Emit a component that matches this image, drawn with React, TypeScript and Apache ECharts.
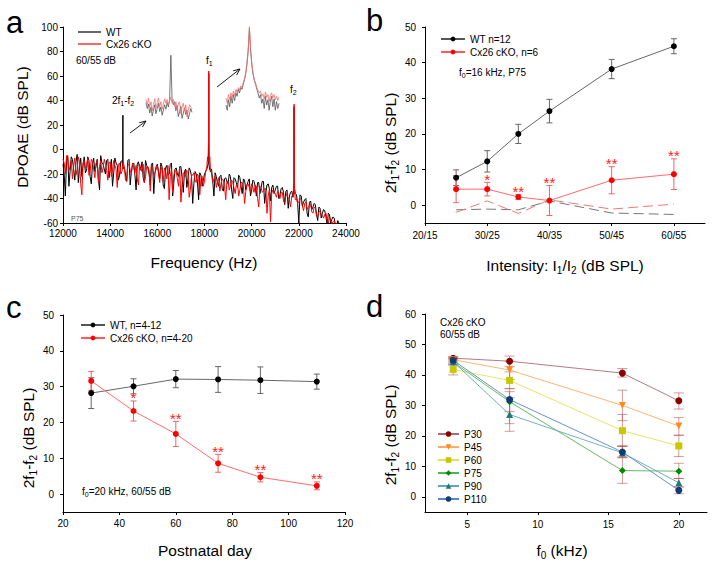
import React, { useEffect, useRef } from 'react';
import * as echarts from 'echarts';

const FONT = '"Liberation Sans", Arial, Helvetica, sans-serif';

// ---------- Panel a: DPOAE spectrum ----------
// values at 12000, 12100, ... 24000 Hz
const specStart = 12000;
const specStep = 100;
const wtSpectrum = [
  -12, -38, -5, -18, -8, -25, -4, -15, -22, -6,
  -17, -9, -28, -7, -14, -24, -5, -12, -20, -8,
  -16, -30, -7, -13, -21, -9, -15, -26, -8, -18,
  -11, -33, -10, -17, -23, -9, -15, -29, -11, -19,
  -12, -24, -14, -32, -13, -20, -11, -27, -15, -22,
  -14, -35, -16, -24, -17, -44, -18, -26, -19, -30,
  -20, -16, -14, -16, -38, -22, -30, -21, -34, -23,
  -28, -22, -40, -24, -31, -23, -36, -25, -29, -24,
  -33, -26, -38, -27, -31, -26, -35, -28, -42, -29,
  -33, -30, -37, -31, -45, -33, -38, -34, -36, -37,
  -60, -38, -43, -40, -55, -42, -47, -45, -58, -48,
  -52, -50, -62, -53, -57, -56, -64, -60, -66, -65,
  -68,
];
// values at 12050, 12150, ... 23950 Hz
const wtSpectrumMid = [
  -20, -9, -30, -6, -16, -10, -27, -7, -13, -19,
  -6, -22, -12, -18, -8, -33, -11, -16, -9, -23,
  -8, -19, -11, -25, -10, -14, -20, -9, -29, -12,
  -21, -12, -16, -10, -27, -13, -20, -12, -36, -14,
  -18, -11, -29, -15, -21, -12, -38, -16, -20, -14,
  -23, -18, -31, -15, -22, -28, -20, -41, -21, -25,
  -18, -12, -18, -26, -19, -27, -22, -32, -24, -26,
  -20, -33, -23, -27, -21, -30, -24, -33, -26, -38,
  -25, -30, -27, -36, -26, -44, -29, -32, -31, -36,
  -30, -40, -32, -35, -34, -48, -35, -39, -36, -44,
  -37, -46, -41, -52, -43, -49, -44, -53, -47, -56,
  -49, -55, -52, -60, -55, -62, -58, -65, -63, -67,
];
const koSpectrum = [
  -8, -20, -6, -14, -24, -7, -16, -10, -37, -9,
  -13, -21, -8, -16, -11, -27, -9, -15, -12, -25,
  -10, -17, -13, -31, -11, -18, -14, -26, -12, -20,
  -15, -13, -29, -16, -12, -22, -14, -34, -15, -19,
  -13, -27, -17, -15, -24, -41, -16, -21, -18, -30,
  -43, -19, -22, -18, -33, -21, -25, -20, -37, -22,
  -26, -14, -10, -20, -24, -31, -23, -28, -25, -41,
  -26, -30, -27, -36, -28, -33, -27, -44, -29, -31,
  -28, -35, -30, -47, -31, -34, -32, -38, -59, -33,
  -36, -34, -40, -35, -44, -36, -41, -38, -36, -40,
  -43, -41, -50, -43, -47, -45, -52, -48, -55, -50,
  -54, -53, -58, -55, -61, -58, -60, -62, -63, -66,
  -68,
];
const koSpectrumMid = [
  -11, -5, -17, -9, -13, -21, -6, -28, -11, -15,
  -7, -18, -10, -23, -9, -14, -19, -8, -17, -11,
  -22, -9, -16, -12, -20, -10, -25, -13, -17, -11,
  -19, -24, -12, -18, -27, -14, -17, -13, -21, -16,
  -20, -14, -26, -18, -13, -22, -35, -17, -24, -15,
  -28, -20, -17, -39, -21, -19, -27, -22, -24, -30,
  -18, -10, -15, -27, -22, -26, -34, -24, -30, -26,
  -33, -25, -31, -29, -38, -27, -30, -34, -28, -35,
  -31, -29, -40, -30, -35, -32, -52, -33, -36, -35,
  -39, -37, -35, -42, -38, -40, -47, -37, -41, -44,
  -40, -46, -44, -49, -46, -51, -47, -54, -51, -53,
  -56, -52, -60, -57, -59, -63, -61, -64, -65, -67,
];
const wtPeaks = [
  [14530, -14], [14540, 28], [14545, -16],
  [18178, -8], [18180, 62], [18183, -8],
  [21798, -30], [21800, 35], [21802, -30],
];
const koPeaks = [
  [18130, -6], [18160, 0], [18175, 10], [18180, 64], [18185, 10], [18195, 0], [18225, -6],
  [21795, -28], [21800, 37], [21805, -30],
];
// insets (relative level, 0-100)
const inset1Wt = [30, 22, 28, 16, 24, 12, 20, 27, 15, 22, 29, 18, 24, 13, 20, 27, 21, 30, 24, 34, 93, 33, 27, 31, 19, 26, 11, 18, 25, 9, 16, 23, 14, 20, 8, 15, 22, 17];
const inset1Ko = [34, 27, 36, 24, 31, 19, 27, 35, 22, 30, 36, 24, 31, 21, 28, 35, 29, 34, 27, 32, 37, 29, 34, 25, 31, 21, 28, 31, 15, 24, 29, 19, 27, 11, 20, 27, 24, 22];
const inset2Wt = [8, 2, 14, 6, 18, 10, 20, 13, 22, 18, 26, 22, 28, 26, 32, 37, 44, 55, 70, 96, 70, 54, 43, 36, 32, 26, 22, 16, 20, 10, 15, 4, 18, 8, 14, 2, 12, 18, 6, 15, 2, 12, 4, 10];
const inset2Ko = [16, 10, 20, 14, 22, 17, 24, 19, 26, 22, 28, 25, 30, 28, 34, 38, 45, 56, 72, 98, 72, 55, 44, 37, 33, 28, 25, 22, 24, 18, 21, 15, 23, 17, 20, 12, 19, 22, 16, 20, 14, 18, 13, 17];

// ---------- Panel b ----------
const bTickValues = [20, 30, 40, 50, 60];
const bTickLabels = ['20/15', '30/25', '40/35', '50/45', '60/55'];
const bLevels = [25, 30, 35, 40, 50, 60];
const bWtMean = [7.7, 12.3, 20.0, 26.4, 38.2, 44.6];
const bWtErr = [2.2, 3.0, 2.7, 3.3, 2.7, 2.1];
const bKoMean = [4.5, 4.5, 2.3, 1.3, 7.0, 8.7];
const bKoErr = [3.8, 1.9, 0.7, 4.2, 3.8, 4.3];
const bWtNoise = [-1.3, -1.1, -1.3, 1.2, -2.2, -2.6];
const bKoNoise = [-2.0, 1.2, -2.3, 1.5, -1.1, 0.3];
const bStars = ['', '*', '**', '**', '**', '**'];
const yTicks50 = [0, 10, 20, 30, 40, 50];

// ---------- Panel c ----------
const cDays = [30, 45, 60, 75, 90, 110];
const cWtMean = [28.2, 30.1, 32.1, 32.0, 31.8, 31.4];
const cWtErr = [4.3, 2.1, 2.4, 3.6, 3.7, 2.1];
const cKoMean = [31.6, 23.2, 16.8, 8.6, 4.7, 2.3];
const cKoErr = [2.6, 2.8, 3.5, 2.5, 1.3, 1.1];
const cStars = ['', '*', '**', '**', '**', '**'];

// ---------- Panel d ----------
const dFreq = [4, 8, 16, 20];
const dXTicks = [5, 10, 15, 20];
const dYTicks = [0, 10, 20, 30, 40, 50, 60];
const dAges = ['P30', 'P45', 'P60', 'P75', 'P90', 'P110'];
const dP30 = [45.5, 44.5, 40.6, 31.5];
const dP30Lo = [44.9, 42.8, 39.3, 28.8];
const dP30Hi = [46.1, 46.2, 42.1, 34.1];
const dP45 = [45.0, 41.6, 30.0, 23.2];
const dP45Lo = [44.5, 38.5, 25.0, 20.2];
const dP45Hi = [45.8, 44.5, 35.0, 26.0];
const dP60 = [41.8, 38.2, 21.7, 16.7];
const dP60Lo = [40.0, 35.5, 16.5, 13.2];
const dP60Hi = [43.6, 41.0, 27.0, 20.2];
const dP75 = [44.2, 31.2, 8.6, 8.4];
const dP75Lo = [43.2, 28.0, 4.4, 6.0];
const dP75Hi = [45.2, 34.5, 12.8, 11.0];
const dP90 = [44.3, 27.0, 14.4, 4.6];
const dP90Lo = [43.5, 21.5, 13.0, 3.3];
const dP90Hi = [45.5, 32.5, 16.5, 6.0];
const dP110 = [44.8, 31.9, 14.7, 2.1];
const dP110Lo = [44.0, 24.0, 13.0, 1.0];
const dP110Hi = [45.6, 35.5, 16.8, 3.2];

const dStyles = [
  { symbol: 'circle', rot: 0, marker: '#8b0000', line: '#b06a74' },
  { symbol: 'triangle', rot: 180, marker: '#ff8a1a', line: '#ffac62' },
  { symbol: 'rect', rot: 0, marker: '#c8c800', line: '#e2e25a' },
  { symbol: 'diamond', rot: 0, marker: '#008a00', line: '#52b452' },
  { symbol: 'triangle', rot: 0, marker: '#1f7a7a', line: '#62a8b4' },
  { symbol: 'circle', rot: 0, marker: '#0b3d78', line: '#5a86c4' },
];

function specPoints(vals: number[], mids: number[], peaks: number[][]) {
  const a = vals.map((v, i) => [specStart + i * specStep, v]);
  const b = mids.map((v, i) => [specStart + specStep / 2 + i * specStep, v]);
  return a.concat(b).concat(peaks).sort((p, q) => p[0] - q[0]);
}

function errorSeries(name: string, g: number, xs: number[], lo: number[], hi: number[], color: string, cap: number, opacity = 1) {
  return {
    type: 'custom', name, xAxisIndex: g, yAxisIndex: g, silent: true,
    data: xs.map((x, i) => [x, lo[i], hi[i]]),
    encode: { x: 0, y: [1, 2] },
    renderItem: (params: any, api: any) => {
      const x = api.value(0);
      const a = api.coord([x, api.value(1)]);
      const b = api.coord([x, api.value(2)]);
      const st = { stroke: color, lineWidth: 1, opacity };
      return {
        type: 'group', children: [
          { type: 'line', shape: { x1: a[0], y1: a[1], x2: b[0], y2: b[1] }, style: st },
          { type: 'line', shape: { x1: a[0] - cap, y1: a[1], x2: a[0] + cap, y2: a[1] }, style: st },
          { type: 'line', shape: { x1: b[0] - cap, y1: b[1], x2: b[0] + cap, y2: b[1] }, style: st },
        ],
      };
    },
  };
}

function starSeries(g: number, xs: number[], tops: number[], labels: string[], color: string) {
  return {
    type: 'custom', xAxisIndex: g, yAxisIndex: g, silent: true,
    data: xs.map((x, i) => [x, tops[i]]),
    encode: { x: 0, y: 1 },
    renderItem: (params: any, api: any) => {
      const p = api.coord([api.value(0), api.value(1)]);
      return {
        type: 'text', x: p[0], y: p[1] - 3,
        style: { text: labels[params.dataIndex], fill: color, fontSize: 15, fontFamily: FONT, align: 'center', verticalAlign: 'middle' },
      };
    },
  };
}

function lineSeries(name: string, g: number, xs: number[], ys: number[], lineColor: string, markerColor: string, symbol = 'circle', size = 6, rot = 0) {
  return {
    type: 'line', name, xAxisIndex: g, yAxisIndex: g, silent: true,
    data: xs.map((x, i) => [x, ys[i]]),
    symbol, symbolSize: size, symbolRotate: rot, showSymbol: true,
    lineStyle: { color: lineColor, width: 0.9 },
    itemStyle: { color: markerColor, borderWidth: 0 },
    z: 3,
  };
}

const axisCommon = {
  type: 'value',
  axisLine: { show: true, onZero: false, lineStyle: { color: '#000', width: 1 } },
  splitLine: { show: false },
};
const tick = (extra: any = {}) => ({ show: true, length: 3, lineStyle: { color: '#000', width: 1 }, ...extra });
const lab = (extra: any = {}) => ({ color: '#000', fontSize: 10, fontFamily: FONT, margin: 5, ...extra });

const rich = (fs: number, sub: number, lh: number) => ({
  n: { fontSize: fs, fontFamily: FONT, fill: '#000', lineHeight: lh },
  s: { fontSize: sub, fontFamily: FONT, fill: '#000', lineHeight: sub, verticalAlign: 'bottom' },
});

function txt(text: string, x: number, y: number, extra: any = {}) {
  return { type: 'text', x, y, silent: true, style: { text, fontSize: 10, fontFamily: FONT, fill: '#000', align: 'left', verticalAlign: 'middle', ...extra } };
}
function richTxt(text: string, x: number, y: number, fs: number, sub: number, lh: number, align = 'left', rotation = 0) {
  return {
    type: 'text', x, y, rotation, silent: true,
    style: { text, rich: rich(fs, sub, lh), fontSize: fs, fontFamily: FONT, fill: '#000', align, verticalAlign: 'middle' },
  };
}
function arrow(x1: number, y1: number, x2: number, y2: number) {
  const ang = Math.atan2(y2 - y1, x2 - x1);
  const L = 7, da = 0.4;
  const p1 = [x2 - L * Math.cos(ang - da), y2 - L * Math.sin(ang - da)];
  const p2 = [x2 - L * Math.cos(ang + da), y2 - L * Math.sin(ang + da)];
  return [
    { type: 'line', silent: true, shape: { x1, y1, x2, y2 }, style: { stroke: '#000', lineWidth: 0.9 } },
    { type: 'polyline', silent: true, shape: { points: [p1, [x2, y2], p2] }, style: { stroke: '#000', lineWidth: 0.9, fill: null } },
  ];
}

export default function App() {
  const ref = useRef<HTMLDivElement>(null);
  useEffect(() => {
    if (!ref.current) return;
    const chart = echarts.init(ref.current, null, { renderer: 'svg' });
    const hiddenAxis = (g: number, min: number, max: number) => ({ type: 'value', gridIndex: g, min, max, show: false });

    const dData = [dP30, dP45, dP60, dP75, dP90, dP110];
    const dLo = [dP30Lo, dP45Lo, dP60Lo, dP75Lo, dP90Lo, dP110Lo];
    const dHi = [dP30Hi, dP45Hi, dP60Hi, dP75Hi, dP90Hi, dP110Hi];

    const series: any[] = [
      // panel a
      { type: 'line', name: 'WT', xAxisIndex: 0, yAxisIndex: 0, data: specPoints(wtSpectrum, wtSpectrumMid, wtPeaks), symbol: 'none', lineStyle: { color: '#000', width: 1 }, itemStyle: { color: '#000' }, silent: true, clip: true },
      { type: 'line', name: 'Cx26 cKO', xAxisIndex: 0, yAxisIndex: 0, data: specPoints(koSpectrum, koSpectrumMid, koPeaks), symbol: 'none', lineStyle: { color: '#ff0000', width: 1 }, itemStyle: { color: '#ff0000' }, silent: true, clip: true },
      { type: 'line', name: 'inset1 WT', xAxisIndex: 4, yAxisIndex: 4, data: inset1Wt.map((v, i) => [i, v]), symbol: 'none', lineStyle: { color: '#555', width: 0.8 }, silent: true },
      { type: 'line', name: 'inset1 KO', xAxisIndex: 4, yAxisIndex: 4, data: inset1Ko.map((v, i) => [i, v]), symbol: 'none', lineStyle: { color: '#f07070', width: 0.8 }, silent: true },
      { type: 'line', name: 'inset2 WT', xAxisIndex: 5, yAxisIndex: 5, data: inset2Wt.map((v, i) => [i, v]), symbol: 'none', lineStyle: { color: '#555', width: 0.8 }, silent: true },
      { type: 'line', name: 'inset2 KO', xAxisIndex: 5, yAxisIndex: 5, data: inset2Ko.map((v, i) => [i, v]), symbol: 'none', lineStyle: { color: '#f07070', width: 0.8 }, silent: true },
      // panel b
      { type: 'line', name: 'WT noise', xAxisIndex: 1, yAxisIndex: 1, data: bLevels.map((x, i) => [x, bWtNoise[i]]), symbol: 'none', lineStyle: { color: '#777', width: 1, type: [10, 5] }, silent: true },
      { type: 'line', name: 'KO noise', xAxisIndex: 1, yAxisIndex: 1, data: bLevels.map((x, i) => [x, bKoNoise[i]]), symbol: 'none', lineStyle: { color: '#ec7a7a', width: 1, type: [10, 5] }, silent: true },
      errorSeries('WT b err', 1, bLevels, bWtMean.map((m, i) => m - bWtErr[i]), bWtMean.map((m, i) => m + bWtErr[i]), '#666', 3),
      errorSeries('KO b err', 1, bLevels, bKoMean.map((m, i) => m - bKoErr[i]), bKoMean.map((m, i) => m + bKoErr[i]), '#e66', 3),
      lineSeries('WT n=12', 1, bLevels, bWtMean, '#555', '#000'),
      lineSeries('Cx26 cKO, n=6', 1, bLevels, bKoMean, '#ff5a5a', '#ff0000'),
      starSeries(1, bLevels, bKoMean.map((m, i) => m + bKoErr[i]), bStars, '#ff2020'),
      // panel c
      errorSeries('WT c err', 2, cDays, cWtMean.map((m, i) => m - cWtErr[i]), cWtMean.map((m, i) => m + cWtErr[i]), '#666', 3),
      errorSeries('KO c err', 2, cDays, cKoMean.map((m, i) => m - cKoErr[i]), cKoMean.map((m, i) => m + cKoErr[i]), '#e66', 3),
      lineSeries('WT, n=4-12', 2, cDays, cWtMean, '#555', '#000'),
      lineSeries('Cx26 cKO, n=4-20', 2, cDays, cKoMean, '#ff5a5a', '#ff0000'),
      starSeries(2, cDays, cKoMean.map((m, i) => m + cKoErr[i]), cStars, '#ff2020'),
    ];
    dAges.forEach((age, k) => {
      series.push(errorSeries(age + ' err', 3, dFreq, dLo[k], dHi[k], '#b84848', 5, 0.55));
    });
    dAges.forEach((age, k) => {
      const s = dStyles[k];
      series.push(lineSeries(age, 3, dFreq, dData[k], s.line, s.marker, s.symbol, 7, s.rot));
    });

    const legendBase = {
      orient: 'vertical', selectedMode: false, itemHeight: 6, itemWidth: 24, padding: 0,
      textStyle: { fontSize: 10, fontFamily: FONT, color: '#000', lineHeight: 10 },
    };

    const option: any = {
      animation: false,
      textStyle: { fontFamily: FONT },
      grid: [
        { left: 63, top: 27, width: 283, height: 196 },
        { left: 425, top: 27, width: 280, height: 196 },
        { left: 63, top: 315, width: 282, height: 197 },
        { left: 425, top: 314, width: 282, height: 198 },
        { left: 146, top: 50, width: 46, height: 75 },
        { left: 226, top: 25, width: 53, height: 87 },
      ],
      xAxis: [
        { ...axisCommon, gridIndex: 0, min: 12000, max: 24000, interval: 2000, axisTick: tick(), axisLabel: lab({ formatter: (v: number) => String(v) }) },
        { ...axisCommon, gridIndex: 1, min: 20, max: 65, axisTick: tick({ customValues: bTickValues }), axisLabel: lab({ customValues: bTickValues, margin: 7, formatter: (v: number) => bTickLabels[bTickValues.indexOf(v)] ?? '' }) },
        { ...axisCommon, gridIndex: 2, min: 20, max: 120, interval: 20, axisTick: tick(), axisLabel: lab({ margin: 6 }) },
        { ...axisCommon, gridIndex: 3, min: 2, max: 22, axisTick: tick({ customValues: dXTicks }), axisLabel: lab({ customValues: dXTicks, margin: 7 }) },
        hiddenAxis(4, 0, inset1Wt.length - 1),
        hiddenAxis(5, 0, inset2Wt.length - 1),
      ],
      yAxis: [
        { ...axisCommon, gridIndex: 0, min: -60, max: 100, interval: 20, axisTick: tick(), axisLabel: lab() },
        { ...axisCommon, gridIndex: 1, min: -5, max: 50, axisTick: tick({ customValues: yTicks50 }), axisLabel: lab({ customValues: yTicks50, margin: 9 }) },
        { ...axisCommon, gridIndex: 2, min: -5, max: 50, axisTick: tick({ customValues: yTicks50 }), axisLabel: lab({ customValues: yTicks50, margin: 9 }) },
        { ...axisCommon, gridIndex: 3, min: -5, max: 60, axisTick: tick({ customValues: dYTicks }), axisLabel: lab({ customValues: dYTicks, margin: 9 }) },
        hiddenAxis(4, 0, 100),
        hiddenAxis(5, 0, 100),
      ],
      legend: [
        { ...legendBase, left: 78, top: 27, itemHeight: 1.2, itemWidth: 23, itemGap: 2, data: [{ name: 'WT', icon: 'rect' }, { name: 'Cx26 cKO', icon: 'rect' }] },
        { ...legendBase, left: 440, top: 34, itemGap: 3, data: ['WT n=12', 'Cx26 cKO, n=6'] },
        { ...legendBase, left: 80, top: 320, itemGap: 3, data: ['WT, n=4-12', 'Cx26 cKO, n=4-20'] },
        { ...legendBase, left: 437, top: 429, itemWidth: 21, itemHeight: 7, itemGap: 3, data: dAges },
      ],
      series,
      graphic: {
        elements: [
          // panel letters
          txt('a', 6, 22, { fontSize: 31 }),
          txt('b', 366, 20, { fontSize: 31 }),
          txt('c', 6, 307, { fontSize: 31 }),
          txt('d', 366, 306, { fontSize: 31 }),
          // panel a
          txt('Frequency (Hz)', 204, 262, { fontSize: 15.5, align: 'center' }),
          { type: 'text', x: 22, y: 127, rotation: Math.PI / 2, silent: true, style: { text: 'DPOAE (dB SPL)', fontSize: 15.5, fontFamily: FONT, fill: '#000', align: 'center', verticalAlign: 'middle' } },
          txt('60/55 dB', 76, 60),
          txt('P75', 71, 218, { fontSize: 7, fill: '#555' }),
          richTxt('{n|2f}{s|1}{n|-f}{s|2}', 112, 100, 10, 7, 13),
          richTxt('{n|f}{s|1}', 206, 60, 10, 7, 13),
          richTxt('{n|f}{s|2}', 290, 89, 10, 7, 13),
          ...arrow(130, 133, 146, 121),
          ...arrow(217, 87, 240, 69),
          // panel b
          richTxt('{n|Intensity: I}{s|1}{n|/I}{s|2}{n| (dB SPL)}', 565, 265, 15.5, 10, 20, 'center'),
          richTxt('{n|2f}{s|1}{n|-f}{s|2}{n| (dB SPL)}', 390, 143, 15.5, 10, 20, 'center', Math.PI / 2),
          richTxt('{n|f}{s|0}{n|=16 kHz, P75}', 459, 72, 10, 7, 13),
          // panel c
          txt('Postnatal day', 205, 550, { fontSize: 15.5, align: 'center' }),
          richTxt('{n|2f}{s|1}{n|-f}{s|2}{n| (dB SPL)}', 28, 438, 15.5, 10, 20, 'center', Math.PI / 2),
          richTxt('{n|f}{s|0}{n|=20 kHz, 60/55 dB}', 82, 491, 10, 7, 13),
          // panel d
          richTxt('{n|f}{s|0}{n| (kHz)}', 562, 550, 15.5, 10, 20, 'center'),
          richTxt('{n|2f}{s|1}{n|-f}{s|2}{n| (dB SPL)}', 390, 435, 15.5, 10, 20, 'center', Math.PI / 2),
          txt('Cx26 cKO', 440, 322),
          txt('60/55 dB', 440, 334),
        ],
      },
    };
    chart.setOption(option);
    return () => chart.dispose();
  }, []);
  return <div ref={ref} style={{ position: 'fixed', left: 0, top: 0, width: 714, height: 566, background: '#fff' }} />;
}
